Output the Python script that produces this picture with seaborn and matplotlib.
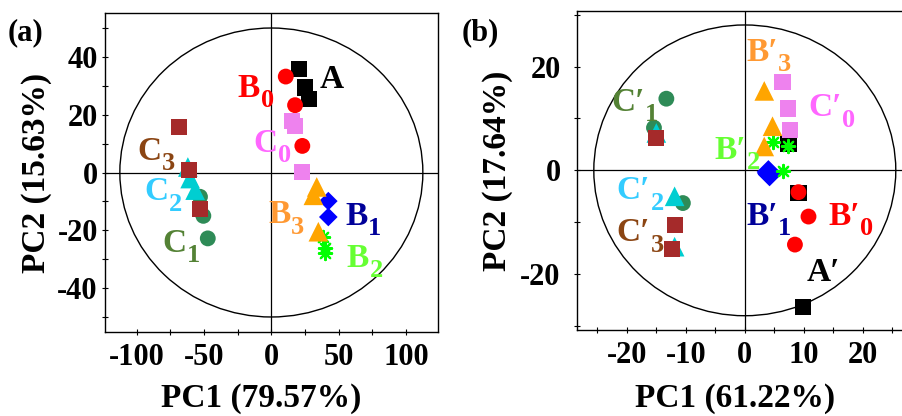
import numpy as np
import pandas as pd
import matplotlib
matplotlib.use("Agg")
import matplotlib.pyplot as plt
import seaborn as sns
from matplotlib.patches import Ellipse
from matplotlib.ticker import MultipleLocator

# ---------------- data: panel (a) ----------------
a_A_x = [20.8, 25.0, 28.0];      a_A_y = [35.7, 29.4, 25.4]
a_B0_x = [10.7, 17.6, 23.0];     a_B0_y = [33.2, 23.3, 9.2]
a_C0_x = [15.1, 17.6, 22.6];     a_C0_y = [17.9, 16.1, 0.2]
a_B1_x = [42.3, 42.3];           a_B1_y = [-9.9, -15.4]
a_B2_x = [38.6, 39.9, 39.9];     a_B2_y = [-22.3, -26.3, -28.0]
a_B3_x = [33.7, 31.2, 34.9];     a_B3_y = [-5.0, -7.9, -20.5]
a_C1_x = [-53.0, -50.5, -47.2];  a_C1_y = [-8.4, -15.0, -22.8]
a_C2_x = [-62.0, -60.3, -56.6];  a_C2_y = [1.9, -2.1, -6.1]
a_C3_x = [-68.5, -61.0, -53.0];  a_C3_y = [15.8, 0.8, -12.7]

# ---------------- data: panel (b) ----------------
b_A_x = [7.4, 9.1, 9.8];         b_A_y = [5.0, -4.4, -26.4]
b_B0_x = [9.1, 10.8, 8.5];       b_B0_y = [-4.2, -8.9, -14.3]
b_C0_x = [6.4, 7.3, 7.7];        b_C0_y = [17.0, 11.9, 7.8]
b_B1_x = [4.0, 4.2, 4.1];        b_B1_y = [-0.3, -0.8, -0.6]
b_B2_x = [4.7, 7.4, 6.4];        b_B2_y = [5.4, 4.6, -0.2]
b_B3_x = [3.3, 4.7, 3.3];        b_B3_y = [15.3, 8.5, 4.6]
b_C1_x = [-13.3, -15.4, -10.5];  b_C1_y = [13.8, 8.2, -6.3]
b_C2_x = [-15.0, -11.9, -11.9];  b_C2_y = [7.2, -5.0, -14.7]
b_C3_x = [-15.1, -11.8, -12.4];  b_C3_y = [6.3, -10.6, -15.2]

groups = ["A", "B0", "C0", "B1", "B2", "B3", "C1", "C2", "C3"]

tick_a_x = [-100, -50, 0, 50, 100]
tick_a_y = [-40, -20, 0, 20, 40]
tick_b_x = [-20, -10, 0, 10, 20]
tick_b_y = [-20, 0, 20]

xlabel_a = "PC1 (79.57%)"; ylabel_a = "PC2 (15.63%)"
xlabel_b = "PC1 (61.22%)"; ylabel_b = "PC2 (17.64%)"

# (main text, subscript)
labels_a = [("A", ""), ("B", "0"), ("C", "0"), ("B", "1"), ("B", "2"),
            ("B", "3"), ("C", "1"), ("C", "2"), ("C", "3")]
labels_b = [("A\u2032", ""), ("B\u2032", "0"), ("C\u2032", "0"), ("B\u2032", "1"),
            ("B\u2032", "2"), ("B\u2032", "3"), ("C\u2032", "1"), ("C\u2032", "2"),
            ("C\u2032", "3")]

# ---------------- styling ----------------
marker_of = {"A": "s", "B0": "o", "C0": "s", "B1": "D", "B2": (8, 2, 0),
             "B3": "^", "C1": "o", "C2": "^", "C3": "s"}
color_of = {"A": "#000000", "B0": "#ff0000", "C0": "#ee82ee", "B1": "#0000ff",
            "B2": "#00ff00", "B3": "#ffa500", "C1": "#2e8b57", "C2": "#00ced1",
            "C3": "#a52a2a"}
size_of = {"A": 135, "B0": 130, "C0": 135, "B1": 90, "B2": 90, "B3": 200,
           "C1": 130, "C2": 200, "C3": 135}
label_color = {"A": "#000000", "B0": "#ff0000", "C0": "#ff66ff", "B1": "#000099",
               "B2": "#66ff33", "B3": "#ff9933", "C1": "#548235", "C2": "#33ccff",
               "C3": "#8b4513"}
label_pos_a = {"A": (36.2, 29.1), "B0": (-25.0, 26.2), "C0": (-13.4, 7.1),
               "B1": (54.7, -18.2), "B2": (56.0, -32.7), "B3": (-2.2, -17.6),
               "C1": (-80.9, -27.5), "C2": (-94.5, -9.6), "C3": (-99.5, 4.3)}
label_pos_b = {"A": (10.5, -21.4), "B0": (14.1, -10.5), "C0": (10.7, 10.4),
               "B1": (0.2, -10.5), "B2": (-5.2, 2.2), "B3": (0.2, 21.1),
               "C1": (-22.7, 11.5), "C2": (-21.8, -5.6), "C3": (-21.8, -13.7)}


def frame(xs, ys):
    rows = []
    for g in groups:
        for x, y in zip(xs[g], ys[g]):
            rows.append({"PC1": x, "PC2": y, "group": g})
    return pd.DataFrame(rows)


df_a = frame({"A": a_A_x, "B0": a_B0_x, "C0": a_C0_x, "B1": a_B1_x, "B2": a_B2_x,
              "B3": a_B3_x, "C1": a_C1_x, "C2": a_C2_x, "C3": a_C3_x},
             {"A": a_A_y, "B0": a_B0_y, "C0": a_C0_y, "B1": a_B1_y, "B2": a_B2_y,
              "B3": a_B3_y, "C1": a_C1_y, "C2": a_C2_y, "C3": a_C3_y})
df_b = frame({"A": b_A_x, "B0": b_B0_x, "C0": b_C0_x, "B1": b_B1_x, "B2": b_B2_x,
              "B3": b_B3_x, "C1": b_C1_x, "C2": b_C2_x, "C3": b_C3_x},
             {"A": b_A_y, "B0": b_B0_y, "C0": b_C0_y, "B1": b_B1_y, "B2": b_B2_y,
              "B3": b_B3_y, "C1": b_C1_y, "C2": b_C2_y, "C3": b_C3_y})

sns.set_theme(style="white")
plt.rcParams["font.family"] = ["Liberation Serif", "DejaVu Serif"]
plt.rcParams["font.weight"] = "bold"
plt.rcParams["axes.unicode_minus"] = False
for k in ["text.color", "axes.labelcolor", "xtick.color", "ytick.color", "axes.edgecolor"]:
    plt.rcParams[k] = "black"

W, H = 903, 416
fig = plt.figure(figsize=(W / 100, H / 100), dpi=100)
ax_a = fig.add_axes([104.7 / W, (H - 332.3) / H, 333.3 / W, 319.6 / H])
ax_b = fig.add_axes([577.3 / W, (H - 330.0) / H, 335.0 / W, 319.3 / H])


def draw(ax, df, labels, label_pos, b_scale, ell_w, ell_h, xlim, ylim,
         xt, yt, xminor, yminor, xlabel, ylabel, ylab_x, xlab_y, ypad):
    ax.add_patch(Ellipse((0, 0), ell_w, ell_h, fill=False, ec="black", lw=1.0, zorder=1))
    ax.axhline(0, color="black", lw=0.9, zorder=1)
    ax.axvline(0, color="black", lw=0.9, zorder=1)
    for g in groups:
        sub = df[df["group"] == g]
        s = size_of[g] * (b_scale if g == "B1" else 1.0)
        kws = dict(marker=marker_of[g], color=color_of[g], s=s)
        if g == "B2":
            kws["linewidth"] = 1.6
        else:
            kws["edgecolor"] = "none"
        sns.scatterplot(data=sub, x="PC1", y="PC2", ax=ax, legend=False, zorder=3, **kws)
    for g, (main, subs) in zip(groups, labels):
        x, y = label_pos[g]
        t = ax.text(x, y, main, color=label_color[g], fontsize=24, fontweight="bold",
                    ha="left", va="baseline", zorder=4)
        if subs:
            ax.annotate(subs, xy=(1, 0), xycoords=t, xytext=(0.5, -6.0),
                        textcoords="offset points", color=label_color[g],
                        fontsize=19, fontweight="bold", ha="left", va="bottom",
                        zorder=4)
    ax.set_xlim(*xlim)
    ax.set_ylim(*ylim)
    ax.set_xticks(xt)
    ax.set_yticks(yt)
    ax.xaxis.set_minor_locator(MultipleLocator(xminor))
    ax.yaxis.set_minor_locator(MultipleLocator(yminor))
    ax.tick_params(which="both", direction="inout", length=4, width=0.8,
                   colors="black", bottom=True, left=True, top=False, right=False)
    ax.tick_params(axis="x", which="major", labelsize=22, pad=6)
    ax.tick_params(axis="y", which="major", labelsize=22, pad=ypad)
    for lab in ax.get_xticklabels() + ax.get_yticklabels():
        lab.set_fontweight("bold")
        lab.set_color("black")
    ax.set_xlabel(xlabel, fontsize=24, fontweight="bold", va="center", color="black")
    ax.set_ylabel(ylabel, fontsize=24, fontweight="bold", va="center", color="black")
    ax.xaxis.set_label_coords(0.47, xlab_y)
    ax.yaxis.set_label_coords(ylab_x, 0.5)
    for sp in ax.spines.values():
        sp.set_visible(True)
        sp.set_color("black")
        sp.set_linewidth(1.0)
    ax.grid(False)


draw(ax_a, df_a, labels_a, label_pos_a, 1.0, 225, 100, (-123.75, 123.75), (-55.3, 55.3),
     tick_a_x, tick_a_y, 25, 10, xlabel_a, ylabel_a, -0.204, -0.206, 3.0)
draw(ax_b, df_b, labels_b, label_pos_b, 1.6, 51.2, 56, (-28.4, 28.4), (-30.75, 30.75),
     tick_b_x, tick_b_y, 5, 10, xlabel_b, ylabel_b, -0.238, -0.213, 10.0)
ax_b.spines["right"].set_visible(False)

fig.text(8 / W, (H - 40) / H, "(a)", fontsize=22, fontweight="bold", ha="left", va="baseline")
fig.text(461.7 / W, (H - 40) / H, "(b)", fontsize=22, fontweight="bold", ha="left", va="baseline")

fig.savefig("out.png", dpi=100)
